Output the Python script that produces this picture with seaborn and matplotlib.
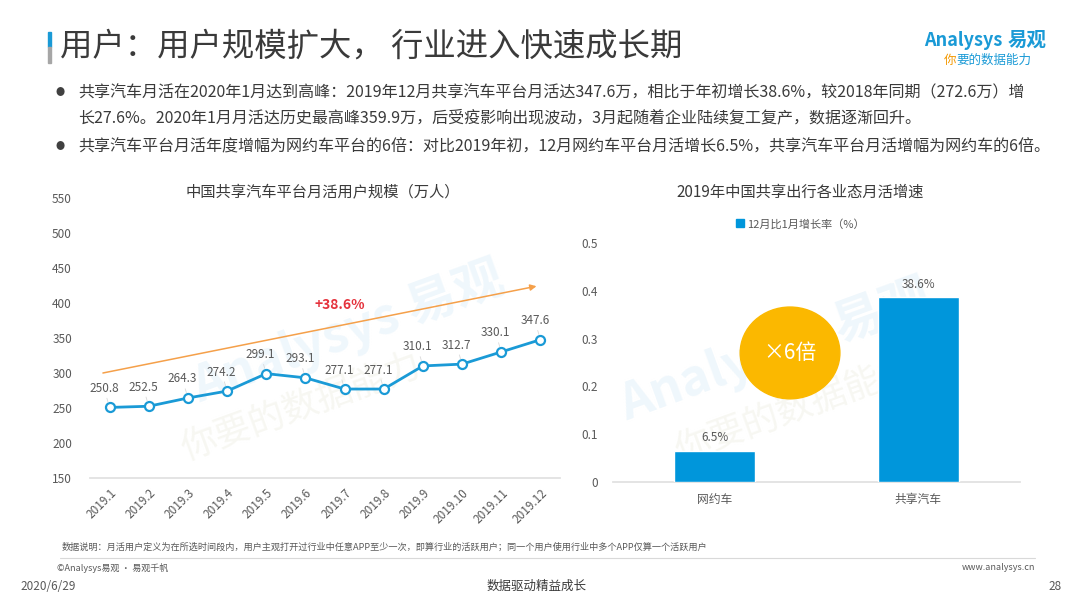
import numpy as np
import pandas as pd
import matplotlib
matplotlib.use('Agg')
import matplotlib.pyplot as plt
import seaborn as sns
from matplotlib.patches import Ellipse, Rectangle
from matplotlib.lines import Line2D

# data
MONTHS = ['2019.1', '2019.2', '2019.3', '2019.4', '2019.5', '2019.6',
          '2019.7', '2019.8', '2019.9', '2019.10', '2019.11', '2019.12']
USERS = [250.8, 252.5, 264.3, 274.2, 299.1, 293.1,
         277.1, 277.1, 310.1, 312.7, 330.1, 347.6]
USER_TICKS = [150, 200, 250, 300, 350, 400, 450, 500, 550]
TREND = [300, 424]          # orange trend arrow, start and end value
TREND_LABEL = '+38.6%'

PLATFORMS = ['网约车', '共享汽车']
GROWTH = [0.065, 0.386]
GROWTH_LABELS = ['6.5%', '38.6%']
GROWTH_TICKS = [0, 0.1, 0.2, 0.3, 0.4, 0.5]
SERIES = '12月比1月增长率（%）'
RATIO_LABEL = '×6倍'

TITLE = '用户：用户规模扩大， 行业进入快速成长期'
BULLETS = ['共享汽车月活在2020年1月达到高峰：2019年12月共享汽车平台月活达347.6万，相比于年初增长38.6%，较2018年同期（272.6万）增',
           '长27.6%。2020年1月月活达历史最高峰359.9万，后受疫影响出现波动，3月起随着企业陆续复工复产，数据逐渐回升。',
           '共享汽车平台月活年度增幅为网约车平台的6倍：对比2019年初，12月网约车平台月活增长6.5%，共享汽车平台月活增幅为网约车的6倍。']
NOTE = ('数据说明：月活用户定义为在所选时间段内，用户主观打开过行业中任意APP至少一次，即算行业的活跃用户；'
        '同一个用户使用行业中多个APP仅算一个活跃用户')

BLUE = '#1a9ad6'
BAR_BLUE = '#0096db'
GREY = '#595959'
DARK = '#3a3a3a'
WM_BLUE = '#eff7fc'
WM_GREY = '#f7f7f2'

sns.set_theme(style='white')
plt.rcParams['font.family'] = ['Noto Sans CJK SC', 'DejaVu Sans']

fig = plt.figure(figsize=(10.8, 6.08), dpi=100)
W, H = 1080, 608


def fx(px):
    return px / W


def fy(py):
    return 1 - py / H


# ---- header ----
fig.patches.append(Rectangle((fx(48), fy(47)), fx(3), 15 / H, color=BLUE,
                             transform=fig.transFigure))
fig.patches.append(Rectangle((fx(48), fy(63)), fx(3), 16 / H, color='#a6a6a6',
                             transform=fig.transFigure))
fig.text(fx(60), fy(47), TITLE, fontsize=23.3, color=DARK, va='center',
         fontweight='medium')
fig.text(fx(924), fy(40), 'Analysys', fontsize=13, color=BLUE, va='center',
         style='italic', fontweight='bold')
fig.text(fx(1008), fy(40), '易观', fontsize=14, color=BLUE, va='center',
         fontweight='bold')
fig.text(fx(944), fy(60), '你', fontsize=9, color='#f39800', va='center',
         style='italic')
fig.text(fx(956), fy(60), '要的数据能力', fontsize=9, color=BLUE, va='center',
         style='italic')

bullet_y = [93, 118, 147]
for i, (line, y) in enumerate(zip(BULLETS, bullet_y)):
    if i != 1:
        fig.text(fx(55), fy(y), '●', fontsize=6.5, color='#404040', va='center')
    fig.text(fx(78), fy(y), line, fontsize=11.55, color=DARK, va='center')

# ---- left: monthly active users ----
ax1 = fig.add_axes([fx(90), fy(478), fx(560) - fx(90), 280 / H])
ax1.set_facecolor('none')
df_users = pd.DataFrame({'pos': np.arange(len(MONTHS)), 'users': USERS})
sns.lineplot(data=df_users, x='pos', y='users', ax=ax1, color=BLUE, lw=2,
             marker='o', markersize=6.5, markerfacecolor='white',
             markeredgecolor=BLUE, markeredgewidth=1.6, zorder=3)
ax1.set_xlim(-0.5, len(MONTHS) - 0.5)
ax1.set_ylim(USER_TICKS[0], USER_TICKS[-1])
ax1.set_yticks(USER_TICKS)
ax1.set_xticks(np.arange(len(MONTHS)))
ax1.set_xticklabels(MONTHS, rotation=45, ha='right', rotation_mode='anchor')
ax1.set_xlabel('')
ax1.set_ylabel('')
ax1.tick_params(axis='both', length=0, labelsize=8.5, labelcolor=GREY)
ax1.tick_params(axis='y', pad=13)
ax1.tick_params(axis='x', pad=6)
for s in ['top', 'right', 'left']:
    ax1.spines[s].set_visible(False)
ax1.spines['bottom'].set_color('#e0e0e0')

for i, v in enumerate(USERS):
    ax1.annotate(f'{v:.1f}', (i, v), xytext=(-4, 9), textcoords='offset points',
                 ha='center', va='bottom', fontsize=8.5, color=GREY,
                 arrowprops=dict(arrowstyle='-', color='#d9d9d9', lw=0.6,
                                 shrinkA=0, shrinkB=4))

ax1.annotate('', xy=(10.9, TREND[1]), xytext=(-0.17, TREND[0]),
             arrowprops=dict(arrowstyle='-|>', color='#f5a04a', lw=1.1,
                             mutation_scale=9, shrinkA=0, shrinkB=0))
ax1.text(5.88, 397, TREND_LABEL, fontsize=10, color='#e5323c',
         fontweight='bold', ha='center', va='center')

# faint watermark
ax1.text(0.55, 0.52, 'Analysys 易观', transform=ax1.transAxes, fontsize=36,
         color=WM_BLUE, rotation=20, ha='center', va='center', zorder=0.5,
         fontweight='bold')
ax1.text(0.45, 0.25, '你要的数据能力', transform=ax1.transAxes, fontsize=26,
         color=WM_GREY, rotation=20, ha='center', va='center', zorder=0.5)

fig.text(fx(323), fy(192), '中国共享汽车平台月活用户规模（万人）', fontsize=11,
         color=DARK, ha='center', va='center')

# ---- right: growth by segment ----
ax2 = fig.add_axes([fx(613), fy(482), fx(1020) - fx(613), 239 / H])
ax2.set_facecolor('none')
df_growth = pd.DataFrame({'platform': PLATFORMS, 'growth': GROWTH,
                          'series': [SERIES] * len(PLATFORMS)})
sns.barplot(data=df_growth, x='platform', y='growth', hue='series',
            palette=[BAR_BLUE], saturation=1, width=0.4, dodge=False, ax=ax2,
            legend=False, zorder=3)
ax2.set_ylim(GROWTH_TICKS[0], GROWTH_TICKS[-1])
ax2.set_yticks(GROWTH_TICKS)
ax2.set_yticklabels(['0'] + [f'{t:.1f}' for t in GROWTH_TICKS[1:]])
ax2.set_xlabel('')
ax2.set_ylabel('')
ax2.tick_params(axis='both', length=0, labelsize=8.5, labelcolor=GREY)
ax2.tick_params(axis='y', pad=11)
ax2.tick_params(axis='x', pad=8)
for s in ['top', 'right', 'left']:
    ax2.spines[s].set_visible(False)
ax2.spines['bottom'].set_color('#e0e0e0')

for i, (v, lab) in enumerate(zip(GROWTH, GROWTH_LABELS)):
    ax2.annotate(lab, (i, v), xytext=(0, 5), textcoords='offset points',
                 ha='center', va='bottom', fontsize=8.5, color=GREY)

ax2.add_patch(Ellipse((0.37, 0.27), 0.49, 0.192, color='#fbb800', zorder=4))
ax2.text(0.37, 0.27, RATIO_LABEL, fontsize=15, color='white', ha='center',
         va='center', zorder=5, fontweight='medium')

ax2.text(0.4, 0.55, 'Analysys 易观', transform=ax2.transAxes, fontsize=36,
         color=WM_BLUE, rotation=20, ha='center', va='center', zorder=0.5,
         fontweight='bold')
ax2.text(0.45, 0.3, '你要的数据能力', transform=ax2.transAxes, fontsize=26,
         color=WM_GREY, rotation=20, ha='center', va='center', zorder=0.5)

fig.text(fx(800), fy(192), '2019年中国共享出行各业态月活增速', fontsize=11,
         color=DARK, ha='center', va='center')
handle = Line2D([], [], marker='s', color='none', markerfacecolor=BAR_BLUE,
                markeredgecolor=BAR_BLUE, markersize=6)
fig.legend([handle], [SERIES], loc='center', bbox_to_anchor=(fx(800), fy(224)),
           frameon=False, fontsize=8, handletextpad=0.2, handlelength=0.8,
           labelcolor=GREY)

# ---- footer ----
fig.text(fx(62), fy(547), NOTE, fontsize=6.6, color=GREY, va='center')
fig.add_artist(Line2D([fx(60), fx(1035)], [fy(558), fy(558)], color='#d9d9d9',
                      lw=0.8, transform=fig.transFigure))
fig.text(fx(57), fy(568), '©Analysys易观 · 易观千帆', fontsize=6.5, color=GREY,
         va='center')
fig.text(fx(1035), fy(568), 'www.analysys.cn', fontsize=6.5, color=GREY,
         va='center', ha='right')
fig.text(fx(20), fy(586), '2020/6/29', fontsize=8.5, color=GREY, va='center')
fig.text(fx(537), fy(586), '数据驱动精益成长', fontsize=9, color=DARK,
         va='center', ha='center')
fig.text(fx(1062), fy(586), '28', fontsize=8.5, color=GREY, va='center',
         ha='right')

fig.savefig('out.png', dpi=100)
